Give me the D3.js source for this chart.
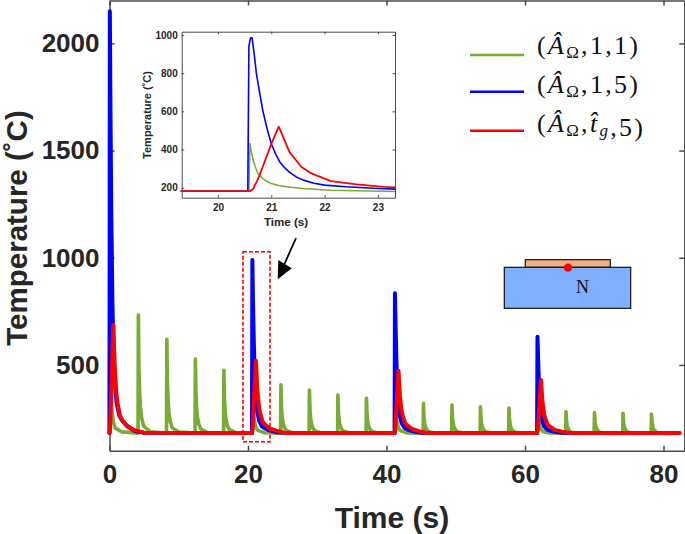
<!DOCTYPE html>
<html>
<head>
<meta charset="utf-8">
<script src="https://cdn.jsdelivr.net/npm/d3@7"></script>
<style>
  html, body { margin: 0; padding: 0; background: #fff; }
  svg { display: block; }
  text { font-family: "Liberation Sans", Arial, sans-serif; }
  .math text, text.math { font-family: "Liberation Serif", "Times New Roman", serif; }
</style>
</head>
<body>
<svg id="chart" width="685" height="534"></svg>
<script>
// Temperatures, one row per pulse
const baseTemp = 182;
const endTime = 82.3;

const greenStarts = [0, 4.12, 8.23, 12.35, 16.47, 20.58, 24.7, 28.82, 32.93, 37.05, 41.17, 45.28, 49.4, 53.52, 57.63, 61.75, 65.87, 69.98, 74.1, 78.22];
const greenOffsets = [0, 0.05, 0.13, 0.23, 0.36, 0.56, 0.85, 1.8];
const greenTemps = [
  [182, 900, 500, 360, 285, 235, 205, 188],
  [182, 733, 484, 374, 302, 246, 213, 188],
  [182, 620, 422, 334, 277, 233, 206, 187],
  [182, 527, 371, 301, 256, 222, 201, 185],
  [182, 475, 342, 283, 245, 215, 198, 184],
  [182, 432, 319, 268, 235, 210, 195, 184],
  [182, 407, 305, 259, 230, 207, 194, 183],
  [182, 383, 292, 251, 225, 204, 192, 183],
  [182, 360, 279, 243, 220, 202, 191, 183],
  [182, 345, 271, 238, 216, 200, 190, 182],
  [182, 400, 300, 257, 228, 206, 193, 183],
  [182, 321, 258, 229, 211, 197, 188, 182],
  [182, 313, 253, 227, 209, 196, 188, 182],
  [182, 305, 249, 224, 208, 195, 188, 182],
  [182, 299, 245, 222, 206, 194, 187, 182],
  [182, 350, 274, 240, 217, 200, 190, 183],
  [182, 282, 236, 216, 202, 192, 186, 182],
  [182, 278, 234, 214, 202, 192, 186, 181],
  [182, 275, 232, 213, 201, 191, 186, 181],
  [182, 271, 230, 212, 200, 191, 185, 181]
];

const blueStarts = [0, 20.58, 41.17, 61.75];
const blueOffsets = [0, 0.05, 0.14, 0.26, 0.42, 0.58, 0.76, 1.02, 1.42, 1.82, 2.42, 2.72, 3.6, 5];
const blueTemps = [
  [182, 2150, 1687, 1212, 789, 556, 428, 326, 263, 241, 219, 212, 192, 184],
  [182, 990, 800, 605, 430, 335, 282, 240, 214, 205, 196, 193, 186, 182],
  [182, 834, 680, 523, 382, 305, 262, 228, 207, 200, 193, 190, 185, 182],
  [182, 632, 526, 417, 320, 266, 237, 213, 199, 194, 189, 187, 184, 182]
];

const redStarts = [0, 20.58, 41.17, 61.75];
const redOffsets = [0, 0.08, 0.26, 0.42, 0.56, 0.76, 0.98, 1.17, 1.54, 2.02, 2.52, 2.72, 3.6, 5];
const redTemps = [
  [182, 202, 375, 555, 687, 488, 372, 320, 260, 235, 215, 209, 196, 184],
  [182, 195, 310, 430, 520, 388, 310, 275, 235, 218, 205, 202, 192, 182],
  [182, 193, 292, 395, 473, 359, 292, 262, 227, 213, 202, 199, 190, 182],
  [182, 192, 276, 364, 430, 333, 276, 250, 221, 208, 198, 196, 189, 182]
];

// Inset curves
const insetGreenTime = [19.3, 20.58, 20.6, 20.63, 20.66, 20.7, 20.75, 20.84, 20.92, 21, 21.14, 21.28, 21.6, 22.1, 23.32];
const insetGreenTemp = [182, 182, 432, 385, 345, 310, 275, 248, 233, 222, 212, 205, 196, 187, 181];
const insetBlueTime = [19.3, 20.56, 20.58, 20.61, 20.64, 20.68, 20.72, 20.78, 20.84, 20.92, 21, 21.08, 21.16, 21.25, 21.34, 21.46, 21.6, 21.8, 22, 22.4, 23, 23.32];
const insetBlueTemp = [182, 182, 940, 985, 985, 900, 800, 700, 605, 510, 430, 378, 335, 305, 282, 258, 240, 224, 214, 205, 196, 193];
const insetRedTime = [19.3, 20.6, 20.66, 20.75, 20.84, 21, 21.14, 21.34, 21.56, 21.75, 22.12, 22.6, 23.1, 23.32];
const insetRedTemp = [182, 182, 195, 245, 310, 430, 520, 388, 310, 275, 235, 218, 205, 202];

const xTicks = [0, 20, 40, 60, 80];
const yTicks = [500, 1000, 1500, 2000];
const insetXTicks = [20, 21, 22, 23];
const insetYTicks = [200, 400, 600, 800, 1000];

const GREEN = "#7aab35", BLUE = "#0000ff", RED = "#ff0000";
const AXIS = "#4a4a4a", LABEL = "#262626";

const svg = d3.select("#chart");

// Flatten pulse rows into [time, temp] pairs
function pulsePoints(starts, offsets, temps) {
  const pts = [];
  starts.forEach((s, i) => offsets.forEach((o, j) => pts.push([s + o, temps[i][j]])));
  pts.push([endTime, baseTemp]);
  return pts;
}

function drawBox(g, x, y, xVals, yVals, tick, opts) {
  const [x0, x1] = x.range();
  const [y0, y1] = y.range();
  const style = (sel) => {
    sel.select(".domain").attr("stroke", AXIS).attr("stroke-width", opts.axisWidth);
    sel.selectAll(".tick line").attr("stroke", AXIS).attr("stroke-width", opts.axisWidth);
    sel.selectAll("text")
      .attr("font-size", opts.tickFont)
      .attr("font-weight", "bold")
      .attr("fill", LABEL);
  };
  g.append("g").attr("transform", `translate(0,${y0})`)
    .call(d3.axisBottom(x).tickValues(xVals).tickSizeInner(-tick).tickSizeOuter(0).tickPadding(opts.xPad).tickFormat(d3.format("d")))
    .call(style);
  g.append("g").attr("transform", `translate(${x0},0)`)
    .call(d3.axisLeft(y).tickValues(yVals).tickSizeInner(-tick).tickSizeOuter(0).tickPadding(opts.yPad).tickFormat(d3.format("d")))
    .call(style);
  // mirrored top and right sides
  g.append("g").attr("transform", `translate(0,${y1})`)
    .call(d3.axisTop(x).tickValues(xVals).tickSizeInner(-tick).tickSizeOuter(0).tickFormat(""))
    .call(style);
  g.append("g").attr("transform", `translate(${x1},0)`)
    .call(d3.axisRight(y).tickValues(yVals).tickSizeInner(-tick).tickSizeOuter(0).tickFormat(""))
    .call(style);
}

// Main axes
const x = d3.scaleLinear().domain([0, 83]).range([109.5, 684.3]);
const y = d3.scaleLinear().domain([100, 2200]).range([450.7, 0.5]);
const line = d3.line().x((d) => x(d[0])).y((d) => y(d[1]));

const main = svg.append("g");
drawBox(main, x, y, xTicks, yTicks, 5, { axisWidth: 1.5, tickFont: 26, xPad: 14, yPad: 10 });

[
  { pts: pulsePoints(greenStarts, greenOffsets, greenTemps), color: GREEN, w: 3.6 },
  { pts: pulsePoints(blueStarts, blueOffsets, blueTemps), color: BLUE, w: 4 },
  { pts: pulsePoints(redStarts, redOffsets, redTemps), color: RED, w: 4 }
].forEach((s) => {
  main.append("path")
    .attr("d", line(s.pts))
    .attr("fill", "none")
    .attr("stroke", s.color)
    .attr("stroke-width", s.w)
    .attr("stroke-linejoin", "round")
    .attr("stroke-linecap", "round");
});

main.append("text").attr("x", 392).attr("y", 528).attr("text-anchor", "middle")
  .attr("font-size", 30).attr("font-weight", "bold").attr("fill", LABEL).text("Time (s)");
main.append("text").attr("transform", "translate(27,228) rotate(-90)").attr("text-anchor", "middle")
  .attr("font-size", 29.5).attr("font-weight", "bold").attr("fill", LABEL).text("Temperature (˚C)");

// Inset
const ix = d3.scaleLinear().domain([19.32, 23.32]).range([181.7, 395]);
const iy = d3.scaleLinear().domain([148, 1017]).range([197.7, 31.7]);
const iline = d3.line().x((d) => ix(d[0])).y((d) => iy(d[1]));

const inset = svg.append("g");
inset.append("rect").attr("x", 181.7).attr("y", 31.7).attr("width", 213.3).attr("height", 166).attr("fill", "#fff");
drawBox(inset, ix, iy, insetXTicks, insetYTicks, 2.5, { axisWidth: 1, tickFont: 10, xPad: 6, yPad: 4 });

[
  { t: insetGreenTime, v: insetGreenTemp, color: GREEN, w: 1.5 },
  { t: insetBlueTime, v: insetBlueTemp, color: BLUE, w: 1.6 },
  { t: insetRedTime, v: insetRedTemp, color: RED, w: 1.8 }
].forEach((s) => {
  inset.append("path")
    .attr("d", iline(s.t.map((t, i) => [t, s.v[i]])))
    .attr("fill", "none")
    .attr("stroke", s.color)
    .attr("stroke-width", s.w)
    .attr("stroke-linejoin", "round");
});

inset.append("text").attr("x", 286).attr("y", 226).attr("text-anchor", "middle")
  .attr("font-size", 11.6).attr("font-weight", "bold").attr("fill", LABEL).text("Time (s)");
inset.append("text").attr("transform", "translate(151,115) rotate(-90)").attr("text-anchor", "middle")
  .attr("font-size", 11).attr("font-weight", "bold").attr("fill", LABEL).text("Temperature (˚C)");

// Legend, with the math set as real text
const legendRows = [
  { color: GREEN, ly: 55, by: 53.5, mid: [["1", false]], tail: ",1)" },
  { color: BLUE, ly: 91.7, by: 93, mid: [["1", false]], tail: ",5)" },
  { color: RED, ly: 130.7, by: 132, mid: [["t\u0302", true], ["g", "sub"]], tail: ",5)" }
];
const legend = svg.append("g").attr("class", "math");
legendRows.forEach((r) => {
  legend.append("line").attr("x1", 470).attr("x2", 524).attr("y1", r.ly).attr("y2", r.ly)
    .attr("stroke", r.color).attr("stroke-width", 2.6);
  const t = legend.append("text").attr("x", 537).attr("y", r.by).attr("font-size", 26)
    .attr("letter-spacing", 2.3).attr("fill", "#111");
  t.append("tspan").text("(");
  t.append("tspan").attr("font-style", "italic").text("A\u0302");
  t.append("tspan").attr("font-size", 17).attr("dy", 4).text("Ω");
  t.append("tspan").attr("dy", -4).text(",");
  r.mid.forEach((m) => {
    if (m[1] === "sub") {
      t.append("tspan").attr("font-size", 17).attr("font-style", "italic").attr("dy", 4).text(m[0]);
      t.append("tspan").attr("dy", -4).text("");
    } else {
      t.append("tspan").attr("font-style", m[1] ? "italic" : "normal").text(m[0]);
    }
  });
  t.append("tspan").text(r.tail);
});

// Zoom window and arrow
svg.append("rect").attr("x", 243).attr("y", 251.7).attr("width", 27).attr("height", 190)
  .attr("fill", "none").attr("stroke", RED).attr("stroke-width", 1.6).attr("stroke-dasharray", "4 2");
svg.append("line").attr("x1", 296).attr("y1", 238).attr("x2", 284).attr("y2", 265)
  .attr("stroke", "#000").attr("stroke-width", 1.8);
svg.append("path").attr("d", "M277.7,279.3 L278.3,260 L291.7,268.3 Z").attr("fill", "#000");

// Device sketch
const device = svg.append("g").attr("class", "math");
device.append("rect").attr("x", 525.3).attr("y", 259.7).attr("width", 85).attr("height", 7.6)
  .attr("fill", "#f9b07f").attr("stroke", "#111").attr("stroke-width", 1.2);
device.append("rect").attr("x", 504.3).attr("y", 267.3).attr("width", 126.4).attr("height", 41)
  .attr("fill", "#80b0ff").attr("stroke", "#111").attr("stroke-width", 1.2);
device.append("circle").attr("cx", 568).attr("cy", 267.6).attr("r", 4.2).attr("fill", RED);
device.append("text").attr("x", 582.5).attr("y", 292.7).attr("text-anchor", "middle")
  .attr("font-size", 18).attr("fill", "#111").text("N");
</script>
</body>
</html>
